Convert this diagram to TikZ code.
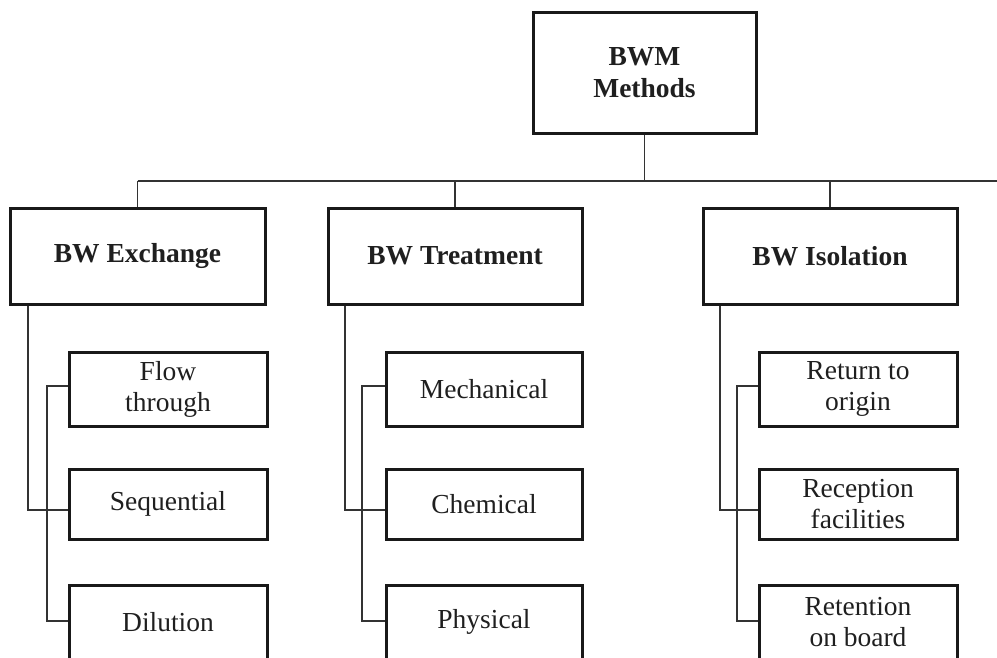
\documentclass[tikz,border=0pt]{standalone}
\usepackage{fontspec}
\setmainfont{Liberation Serif}
\begin{document}
\begin{tikzpicture}[x=1pt,y=-1pt,
  box/.style={draw=black!90, line width=3pt, inner sep=0pt, align=center,
    text=black!88, font=\fontsize{27.5}{31}\selectfont},
  hbox/.style={box, font=\fontsize{27.5}{32}\selectfont\bfseries},
  conn/.style={draw=black!80, line width=1.3pt}
]
\useasboundingbox (0,0) rectangle (997,657);
\clip (0,0) rectangle (997,657);

% root
\node[hbox, minimum width=223pt, minimum height=121pt] (root) at (644.5,72.5) {BWM\\Methods};

% level 2
\node[hbox, minimum width=255pt, minimum height=96pt] (ex) at (137.5,256) {BW Exchange};
\node[hbox, minimum width=254pt, minimum height=96pt] (tr) at (455,256) {BW Treatment};
\node[hbox, minimum width=254pt, minimum height=96pt] (is) at (830,256) {BW Isolation};

% exchange children
\node[box, minimum width=198pt, minimum height=74pt] (flow) at (168,389) {Flow\\through};
\node[box, minimum width=198pt, minimum height=70pt] (seq) at (168,504) {Sequential};
\node[box, minimum width=198pt, minimum height=74pt] (dil) at (168,622) {Dilution};

% treatment children
\node[box, minimum width=196pt, minimum height=74pt] (mech) at (484,389) {Mechanical};
\node[box, minimum width=196pt, minimum height=70pt] (chem) at (484,504) {Chemical};
\node[box, minimum width=196pt, minimum height=74pt] (phys) at (484,622) {Physical};

% isolation children
\node[box, minimum width=198pt, minimum height=74pt] (ret) at (858,389) {Return to\\origin};
\node[box, minimum width=198pt, minimum height=70pt] (rec) at (858,504) {Reception\\facilities};
\node[box, minimum width=198pt, minimum height=74pt] (retb) at (858,622) {Retention\\on board};

% bus
\coordinate (bus) at (997,181);
\draw[conn] (root.south) -- (root.south |- bus);
\draw[conn] (ex.north |- bus) -- (bus);
\draw[conn] (ex.north |- bus) -- (ex.north);
\draw[conn] (tr.north |- bus) -- (tr.north);
\draw[conn] (is.north |- bus) -- (is.north);

% exchange branch
\coordinate (exo) at (28,0);
\coordinate (exi) at (47,0);
\draw[conn] (ex.south -| exo) |- ([yshift=-6pt]seq.west);
\draw[conn] ([yshift=3pt]flow.west) -| ([yshift=1pt]dil.west -| exi) -- ([yshift=1pt]dil.west);

% treatment branch
\coordinate (tro) at (345,0);
\coordinate (tri) at (362,0);
\draw[conn] (tr.south -| tro) |- ([yshift=-6pt]chem.west);
\draw[conn] ([yshift=3pt]mech.west) -| ([yshift=1pt]phys.west -| tri) -- ([yshift=1pt]phys.west);

% isolation branch
\coordinate (iso) at (720,0);
\coordinate (isi) at (737,0);
\draw[conn] (is.south -| iso) |- ([yshift=-6pt]rec.west);
\draw[conn] ([yshift=3pt]ret.west) -| ([yshift=1pt]retb.west -| isi) -- ([yshift=1pt]retb.west);
\end{tikzpicture}
\end{document}
